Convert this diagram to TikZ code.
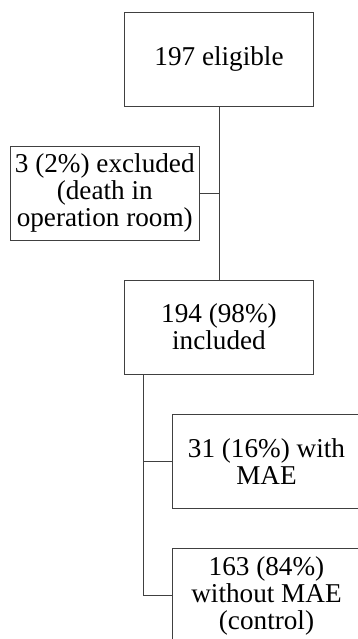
\documentclass[tikz,border=0pt]{standalone}
\usepackage{fontspec}
\setmainfont{Liberation Serif}
\usepackage{tikz}
\usetikzlibrary{calc}
\tikzset{
  flowbox/.style = {rectangle, draw=black!75, line width=0.5pt, align=center, inner sep=0pt, text centered, minimum width=94.5pt, minimum height=47pt, font=\fontsize{13.6}{13.4}\selectfont},
  flowline/.style = {draw=black!75, line width=0.5pt}
}
\begin{document}
\begin{tikzpicture}[x=0.5pt, y=-0.5pt]
    \useasboundingbox (0,0) rectangle (358,639);
    \node[flowbox] (elig) at (219,59.25) {197 eligible};
    \node[flowbox] (excl) at (104.75,193) {3 (2\%) excluded\\(death in\\operation room)};
    \node[flowbox] (incl) at (219,327) {194 (98\%)\\included};
    \node[flowbox] (mae) at (266.5,461.5) {31 (16\%) with\\MAE};
    \node[flowbox] (ctrl) at (266.5,595.7) {163 (84\%)\\without MAE\\(control)};
    \coordinate (fork) at ($(incl.south west)+(19,0)$);
    \draw[flowline] (elig) -- (incl);
    \draw[flowline] (excl.east) -- (excl.east -| elig.south);
    \draw[flowline] (fork) |- (ctrl.west);
    \draw[flowline] (fork |- mae.west) -- (mae.west);
\end{tikzpicture}
\end{document}
